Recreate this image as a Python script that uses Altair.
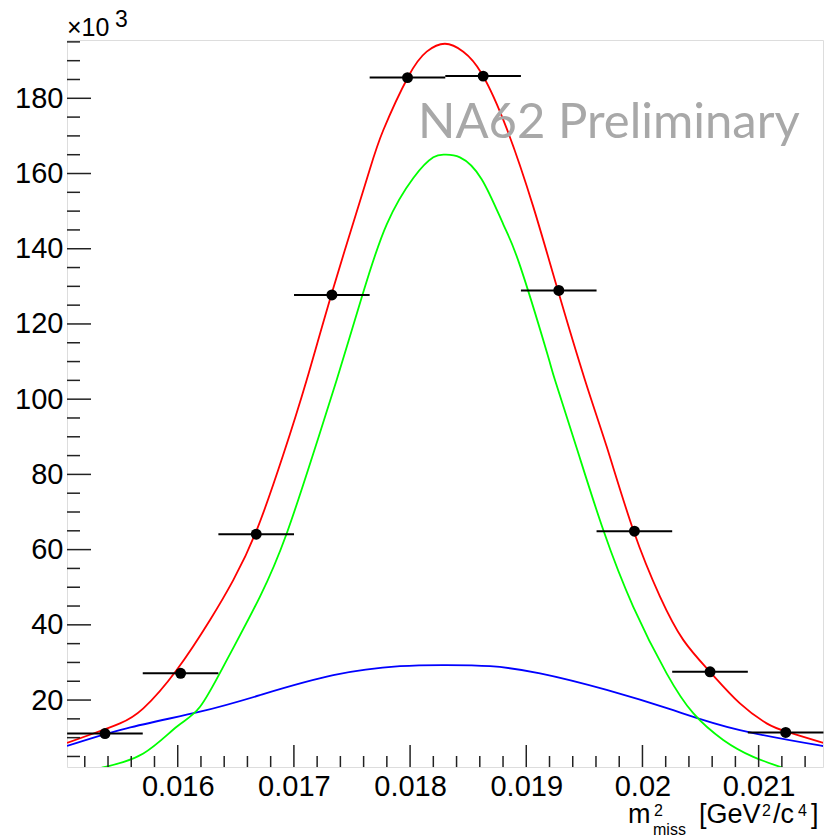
import altair as alt
import pandas as pd

# ---------------- data (y in units of 10^3) ----------------
bin_center = [0.015374, 0.016025, 0.016676, 0.017327, 0.017978,
              0.018629, 0.019280, 0.019931, 0.020582, 0.021233]
bin_lo = [0.015048, 0.015699, 0.016350, 0.017001, 0.017652,
          0.018303, 0.018954, 0.019605, 0.020256, 0.020907]
bin_hi = [0.015699, 0.016350, 0.017001, 0.017652, 0.018303,
          0.018954, 0.019605, 0.020256, 0.020907, 0.021558]
counts = [11.1, 27.1, 64.1, 127.7, 185.5, 185.9, 128.9, 64.9, 27.5, 11.4]

red_x = [0.015047, 0.015274, 0.015503, 0.015704, 0.015991, 0.016278, 0.016478,
         0.016680, 0.016906, 0.017110, 0.017339, 0.017627, 0.017769, 0.017985,
         0.018143, 0.018300, 0.018458, 0.018616, 0.018831, 0.019060, 0.019262,
         0.019505, 0.019692, 0.019921, 0.020151, 0.020351, 0.020581, 0.020839,
         0.021069, 0.021241, 0.021528, 0.021554]
red_y = [8.6, 11.1, 13.8, 17.8, 28.0, 41.3, 51.9,
         65.2, 85.0, 105.1, 129.5, 158.5, 171.5, 185.8,
         192.4, 194.5, 192.4, 186.6, 172.0, 151.2, 130.0,
         105.1, 87.4, 65.2, 47.5, 36.0, 27.5, 19.1,
         13.8, 11.6, 8.9, 8.6]

green_x = [0.015346, 0.015704, 0.015991, 0.016192, 0.016422, 0.016708, 0.016938,
           0.017156, 0.017368, 0.017597, 0.017799, 0.018028, 0.018200, 0.018300,
           0.018429, 0.018616, 0.018802, 0.018946, 0.019176, 0.019247, 0.019434,
           0.019663, 0.019921, 0.020208, 0.020437, 0.020695, 0.020954, 0.021226]
green_y = [2.0, 5.8, 12.9, 18.2, 30.6, 47.5, 64.3,
           84.5, 105.1, 128.4, 146.5, 158.8, 164.3, 165.0,
           164.3, 158.5, 146.5, 135.5, 112.6, 105.1, 87.0,
           65.2, 44.8, 27.1, 16.5, 9.4, 4.9, 1.8]

blue_x = [0.015047, 0.015561, 0.016192, 0.016708, 0.017339, 0.017913, 0.018309,
          0.018688, 0.019118, 0.019692, 0.020265, 0.020839, 0.021513, 0.021554]
blue_y = [7.8, 12.5, 16.9, 21.3, 26.6, 29.0, 29.3,
          29.0, 27.1, 22.7, 17.3, 12.0, 8.0, 7.8]

x_major = [0.016, 0.017, 0.018, 0.019, 0.020, 0.021]
x_minor = [0.0152, 0.0154, 0.0156, 0.0158, 0.0162, 0.0164, 0.0166, 0.0168,
           0.0172, 0.0174, 0.0176, 0.0178, 0.0182, 0.0184, 0.0186, 0.0188,
           0.0192, 0.0194, 0.0196, 0.0198, 0.0202, 0.0204, 0.0206, 0.0208,
           0.0212, 0.0214]
y_major = [20, 40, 60, 80, 100, 120, 140, 160, 180]
y_minor = [5, 10, 15, 25, 30, 35, 45, 50, 55, 65, 70, 75, 85, 90, 95,
           105, 110, 115, 125, 130, 135, 145, 150, 155, 165, 170, 175,
           185, 190, 195]

x_domain = [0.015047, 0.021554]
y_domain = [2.2, 195.5]

W, H = 756, 727
FONT = "Liberation Sans"

xscale = alt.Scale(domain=x_domain, nice=False, zero=False)
yscale = alt.Scale(domain=y_domain, nice=False, zero=False)
xaxis = alt.Axis(values=x_major, labelExpr="format(datum.value, '~g')",
                 ticks=False, domain=False, grid=False, labelFontSize=29,
                 labelFont=FONT, labelColor="black", labelPadding=5,
                 labelFlush=False, labelOverlap=False)
yaxis = alt.Axis(values=y_major, format="d", ticks=False, domain=False,
                 grid=False, labelFontSize=29, labelFont=FONT,
                 labelColor="black", labelPadding=4, labelOverlap=False)


def X(field):
    return alt.X(field, type="quantitative", scale=xscale, axis=xaxis, title=None)


def Y(field):
    return alt.Y(field, type="quantitative", scale=yscale, axis=yaxis, title=None)


def curve(xs, ys, color):
    df = pd.DataFrame({"x": xs, "y": ys})
    return alt.Chart(df).mark_line(color=color, strokeWidth=1.8, clip=True,
                                   interpolate="natural").encode(
        x=X("x"), y=Y("y"), order="x:Q")


hist = pd.DataFrame({"c": bin_center, "lo": bin_lo, "hi": bin_hi, "n": counts})

errbars = alt.Chart(hist).mark_rule(color="black", strokeWidth=2).encode(
    x=X("lo"), x2="hi", y=Y("n"))
points = alt.Chart(hist).mark_circle(color="black", opacity=1, size=120).encode(
    x=X("c"), y=Y("n"))

xt_major = alt.Chart(pd.DataFrame({"t": x_major})).mark_rule(
    color="#222", strokeWidth=1.5).encode(x=X("t"), y=alt.value(H), y2=alt.value(H - 22))
xt_minor = alt.Chart(pd.DataFrame({"t": x_minor})).mark_rule(
    color="#222", strokeWidth=1.5).encode(x=X("t"), y=alt.value(H), y2=alt.value(H - 11))
yt_major = alt.Chart(pd.DataFrame({"t": y_major})).mark_rule(
    color="#222", strokeWidth=1.5).encode(y=Y("t"), x=alt.value(0), x2=alt.value(24))
yt_minor = alt.Chart(pd.DataFrame({"t": y_minor})).mark_rule(
    color="#222", strokeWidth=1.5).encode(y=Y("t"), x=alt.value(0), x2=alt.value(13))


def label(text, px, py, size, align="left", color="black", font=FONT):
    return alt.Chart(pd.DataFrame({"t": [text]})).mark_text(
        align=align, baseline="alphabetic", fontSize=size, font=font,
        color=color).encode(text="t:N", x=alt.value(px), y=alt.value(py))


texts = [
    label("NA62 Preliminary", 351, 98, 49, color="#a8a8a8", font="Lato"),
    label("\u00d710", 0, -4, 25),
    label("3", 48, -13, 23),
    label("m", 561, 783, 27),
    label("2", 587, 776, 16),
    label("miss", 586, 795, 16),
    label("[GeV", 632, 783, 27),
    label("2", 695, 776, 16),
    label("/c", 706, 783, 27),
    label("4", 731, 776, 16),
    label("]", 744, 783, 27),
]

chart = alt.layer(
    curve(blue_x, blue_y, "#0000ff"),
    curve(green_x, green_y, "#00ff00"),
    curve(red_x, red_y, "#ff0000"),
    errbars, points,
    xt_major, xt_minor, yt_major, yt_minor,
    *texts,
).properties(
    width=W, height=H,
    autosize=alt.AutoSizeParams(type="none"),
    padding={"left": 67, "top": 40, "right": 2, "bottom": 70},
).configure_view(stroke="#222", strokeWidth=1.5).configure(background="white")

chart.save("out.html", embed_options={"renderer": "svg", "actions": False})
